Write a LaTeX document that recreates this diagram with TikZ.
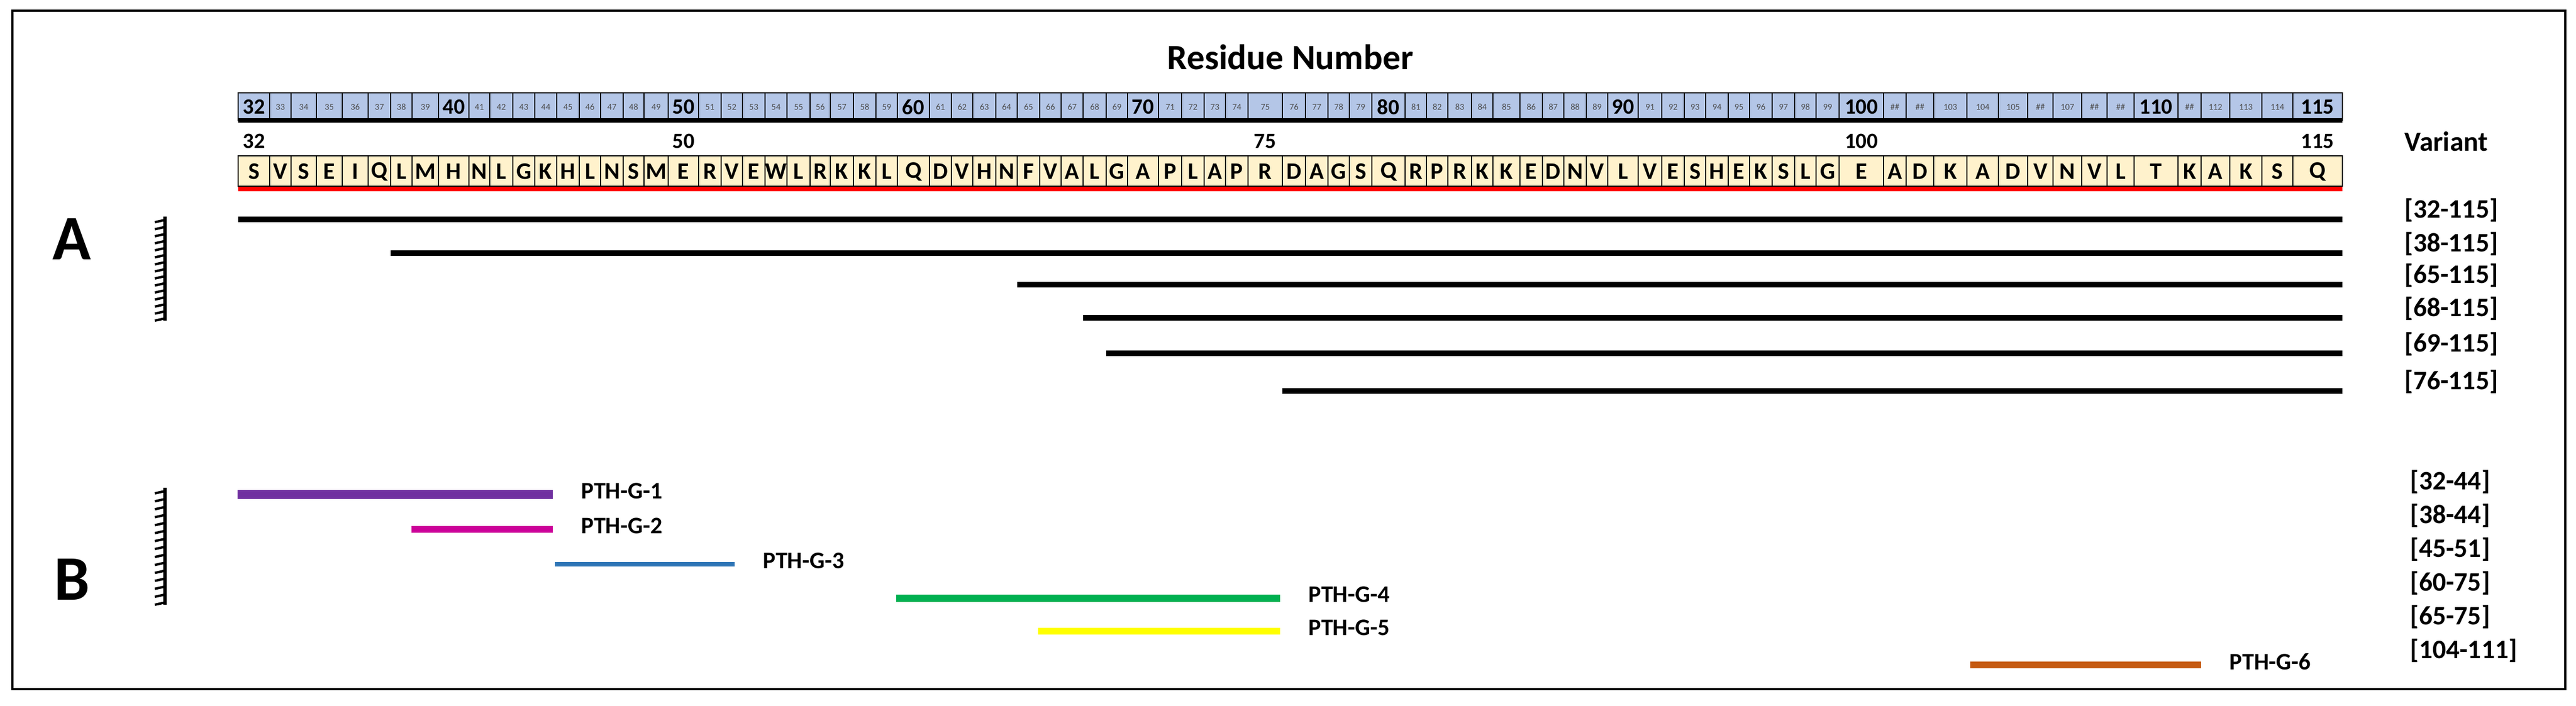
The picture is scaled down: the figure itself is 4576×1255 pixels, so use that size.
\documentclass[tikz,border=0pt]{standalone}
\usepackage{fontspec}
\setmainfont{Carlito}
\usetikzlibrary{calc}

\definecolor{rulerblue}{RGB}{180,198,231}
\definecolor{seqcream}{RGB}{255,242,204}
\definecolor{gpurple}{RGB}{112,48,160}
\definecolor{gmagenta}{RGB}{204,0,153}
\definecolor{gblue}{RGB}{46,117,182}
\definecolor{ggreen}{RGB}{0,176,80}
\definecolor{gyellow}{RGB}{255,255,0}
\definecolor{gorange}{RGB}{197,90,17}

\tikzset{
  cell/.style={draw=black, line width=0.8pt},
  varbar/.style={line width=2.8pt},
  rng/.style={font=\fontsize{13.5}{14}\selectfont\bfseries, anchor=west, inner sep=0pt},
  glabel/.style={font=\fontsize{12}{13}\selectfont\bfseries, anchor=west, inner sep=0pt},
  panel/.style={font=\fontsize{32}{34}\selectfont\bfseries, inner sep=0pt},
  surface/.style={line width=1.6pt}
}

\begin{document}
\begin{tikzpicture}[x=0.01cm, y=-0.01cm]
    \useasboundingbox (0,0) rectangle (4576,1255);
    \draw[line width=1.2pt] (22,19) rectangle (4557,1225);

    % residue boundaries
    \foreach \x [count=\i from 32] in {423,479,517,562,608,654,694,732,779,833,870,911,950,989,1029,1067,1107,1144,1187,1241,1281,1319,1359,1398,1439,1475,1516,1556,1594,1651,1690,1728,1769,1807,1847,1885,1924,1965,2003,2058,2099,2139,2177,2217,2278,2319,2359,2397,2437,2496,2534,2572,2614,2652,2700,2740,2778,2818,2856,2910,2952,2992,3030,3070,3108,3148,3188,3226,3267,3346,3386,3435,3494,3550,3602,3647,3698,3743,3791,3869,3910,3961,4018,4073,4161}
        \coordinate (b\i) at (\x,0);
    \coordinate (rulerT) at (0,165);
    \coordinate (rulerB) at (0,214);
    \coordinate (rulerM) at (0,190);
    \coordinate (numM) at (0,251);
    \coordinate (seqT) at (0,277);
    \coordinate (seqB) at (0,331);
    \coordinate (seqM) at (0,305);

    \node[font=\fontsize{18}{20}\selectfont\bfseries] (title) at (2292,102) {Residue Number};

    % ruler of residue numbers
    \foreach \lab [count=\r from 32, evaluate=\r as \s using int(\r+1)] in {32,33,34,35,36,37,38,39,40,41,42,43,44,45,46,47,48,49,50,51,52,53,54,55,56,57,58,59,60,61,62,63,64,65,66,67,68,69,70,71,72,73,74,75,76,77,78,79,80,81,82,83,84,85,86,87,88,89,90,91,92,93,94,95,96,97,98,99,100,\#\#,\#\#,103,104,105,\#\#,107,\#\#,\#\#,110,\#\#,112,113,114,115} {
        \draw[cell, fill=rulerblue] (b\r |- rulerT) rectangle (b\s |- rulerB);
        \pgfmathparse{(mod(\r,10)==0 || \r==32 || \r==115) ? 1 : 0}
        \ifnum\pgfmathresult=1
            \node[font=\fontsize{11}{12}\selectfont\bfseries, inner sep=0pt] (tick\r) at ($(b\r |- rulerM)!0.5!(b\s |- rulerM)$) {\lab};
        \else
            \node[font=\fontsize{4.5}{5}\selectfont, text=black!70, inner sep=0pt] (tick\r) at ($(b\r |- rulerM)!0.5!(b\s |- rulerM)$) {\lab};
        \fi
    }
    \draw[line width=2.3pt] (b32 |- rulerB) -- (b116 |- rulerB);

    % sequence
    \foreach \aa [count=\r from 32, evaluate=\r as \s using int(\r+1)] in {S,V,S,E,I,Q,L,M,H,N,L,G,K,H,L,N,S,M,E,R,V,E,W,L,R,K,K,L,Q,D,V,H,N,F,V,A,L,G,A,P,L,A,P,R,D,A,G,S,Q,R,P,R,K,K,E,D,N,V,L,V,E,S,H,E,K,S,L,G,E,A,D,K,A,D,V,N,V,L,T,K,A,K,S,Q} {
        \draw[cell, fill=seqcream] (b\r |- seqT) rectangle (b\s |- seqB);
        \node[font=\fontsize{12}{13}\selectfont\bfseries, inner sep=0pt] (aa\r) at ($(b\r |- seqM)!0.5!(b\s |- seqM)$) {\aa};
    }
    \draw[red, line width=2pt] ($(b32 |- seqB)+(0,5)$) -- ($(b116 |- seqB)+(0,5)$);
    \foreach \r in {32,50,75,100,115}
        \node[font=\fontsize{11}{12}\selectfont\bfseries, inner sep=0pt] (num\r) at (aa\r |- numM) {\r};

    \node[font=\fontsize{14}{15}\selectfont\bfseries, anchor=west, inner sep=0pt] (variant) at (4271,251) {Variant};

    % panel A: truncated variants
    \node[panel] (A) at (128,425) {A};
    \foreach \st/\yy in {32/390, 38/450, 65/506, 68/565, 69/628, 76/695} {
        \draw[varbar] (b\st |- 0,\yy) -- (b116 |- 0,\yy);
        \node[rng] (rngA\st) at (4271,\yy-16) {[\st-115]};
    }

    % panel B: fragments
    \node[panel] (B) at (128,1030) {B};
    \foreach \xa/\xb/\yy/\col/\w/\n/\lab in {
        422/982/879/gpurple/4.4/1/32-44,
        731/982/941/gmagenta/3.3/2/38-44,
        986/1305/1003/gblue/2/3/45-51,
        1592/2274/1063/ggreen/3.7/4/60-75,
        1844/2274/1122/gyellow/3.3/5/65-75,
        3500/3910/1182/gorange/3.5/6/104-111} {
        \coordinate (fs\n) at (\xa,\yy);
        \coordinate (fe\n) at (\xb,\yy);
        \draw[\col, line width=\w pt] (fs\n) -- (fe\n);
        \node[glabel] (g\n) at ($(fe\n)+(50,-6)$) {PTH-G-\n};
        \node[rng] (rngB\n) at (4281,797+60*\n) {[\lab]};
    }

    % surface symbols
    \foreach \yt/\yb in {385/570, 867/1075} {
        \draw[surface] (293,\yt) -- (293,\yb);
        \foreach \k in {0,...,14}
            \draw[line width=1.2pt] (293,{\yt+6+\k*(\yb-\yt-10)/14}) -- ++(-18,4);
    }
\end{tikzpicture}
\end{document}
